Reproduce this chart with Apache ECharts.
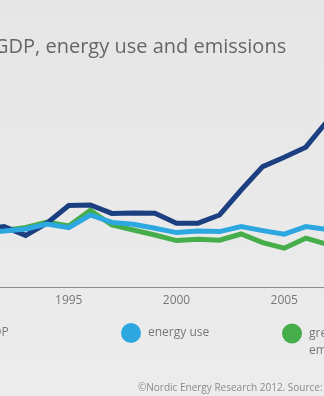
<!DOCTYPE html>
<html>
<head>
<meta charset="utf-8">
<script src="https://cdn.jsdelivr.net/npm/echarts@6/dist/echarts.min.js"></script>
<style>
html,body{margin:0;padding:0;overflow:hidden;background:#e9e9e9;width:324px;height:396px;}
#wrap{position:relative;width:324px;height:396px;overflow:hidden;}
#chart{position:absolute;left:-60px;top:0;width:464px;height:396px;}
</style>
</head>
<body>
<div id="wrap"><div id="chart"></div></div>
<script>
// Index values (1990–2010, null where not visible)
var years = ['1990','1991','1992','1993','1994','1995','1996','1997','1998','1999','2000','2001','2002','2003','2004','2005','2006','2007','2008','2009','2010'];
var gdp = [null, 99, 100.2, 95.8, 102, 110.7, 111, 106.8, 107, 106.9, 101.9, 101.9, 106, 118.5, 130.2, 134.9, 139.9, 153, null, null, null];
var energyUse = [null, 97.5, 98, 99, 101.5, 99.7, 106, 102.3, 101.4, 99.4, 97.2, 98, 97.7, 100.2, 98.2, 96.4, 100.2, 98.8, null, null, null];
var emissions = [null, 97.5, 98.3, 99.8, 102.5, 100.5, 108.3, 101, 98.5, 96, 93.2, 93.9, 93.4, 96.5, 92.2, 89.4, 94.4, 91.3, null, null, null];
var seriesNames = ['GDP', 'energy use', 'greenhouse gas emissions'];
var tickYears = ['1995', '2000', '2005'];

var FONT = 'Open Sans';
var OFF = 60; // the chart canvas starts 60px left of the visible frame
var chart = echarts.init(document.getElementById('chart'), null, {renderer: 'canvas'});
chart.setOption({
  animation: false,
  backgroundColor: {
    type: 'linear', x: 0, y: 0, x2: 0, y2: 1,
    colorStops: [{offset: 0, color: '#e6e6e6'}, {offset: 1, color: '#ececec'}]
  },
  title: [
    {
      text: 'GDP, energy use and emissions',
      left: OFF - 6, top: 37, padding: 0,
      textStyle: {fontFamily: FONT, fontSize: 20, fontWeight: 'normal', color: '#666666'}
    },
    {
      text: '©Nordic Energy Research 2012. Source:',
      left: OFF + 138, top: 383, padding: 0,
      textStyle: {fontFamily: FONT, fontSize: 10, fontWeight: 'normal', color: '#8a8a8a'}
    }
  ],
  legend: [
    {
      data: [seriesNames[0]], left: OFF - 43, top: 323, padding: 0,
      icon: 'circle', itemWidth: 24, itemHeight: 20,
      textStyle: {fontFamily: FONT, fontSize: 12, color: '#777777'}
    },
    {
      data: [seriesNames[1]], left: OFF + 121, top: 323, padding: 0,
      icon: 'circle', itemWidth: 24, itemHeight: 20,
      textStyle: {fontFamily: FONT, fontSize: 12, color: '#777777'}
    },
    {
      data: [seriesNames[2]], left: OFF + 282, top: 308, padding: 0,
      icon: 'circle', itemWidth: 24, itemHeight: 20,
      formatter: function () { return '\ngreenhouse gas\nemissions'; },
      textStyle: {fontFamily: FONT, fontSize: 12, color: '#777777', lineHeight: 17}
    }
  ],
  grid: {left: OFF - 39, right: 12, top: 27, bottom: 109, containLabel: false},
  xAxis: {
    type: 'category',
    data: years,
    boundaryGap: false,
    axisLine: {show: true, lineStyle: {color: '#8c8c8c', width: 1}},
    axisTick: {show: false},
    splitLine: {show: false},
    axisLabel: {
      interval: 0,
      margin: 8,
      fontFamily: FONT, fontSize: 12, color: '#777777',
      formatter: function (v) { return tickYears.indexOf(v) >= 0 ? v : ''; }
    }
  },
  yAxis: {
    type: 'value', min: 70, max: 200, show: false,
    splitLine: {show: false}
  },
  series: [
    {
      name: seriesNames[2], type: 'line', data: emissions, symbol: 'none', z: 2,
      itemStyle: {color: '#46ad4b'},
      lineStyle: {color: '#46ad4b', width: 5, join: 'miter', cap: 'butt'}
    },
    {
      name: seriesNames[0], type: 'line', data: gdp, symbol: 'none', z: 3,
      itemStyle: {color: '#1b3f80'},
      lineStyle: {color: '#1b3f80', width: 5, join: 'miter', cap: 'butt'}
    },
    {
      name: seriesNames[1], type: 'line', data: energyUse, symbol: 'none', z: 4,
      itemStyle: {color: '#2ca7e0'},
      lineStyle: {color: '#2ca7e0', width: 5, join: 'miter', cap: 'butt'}
    }
  ]
});
</script>
</body>
</html>
